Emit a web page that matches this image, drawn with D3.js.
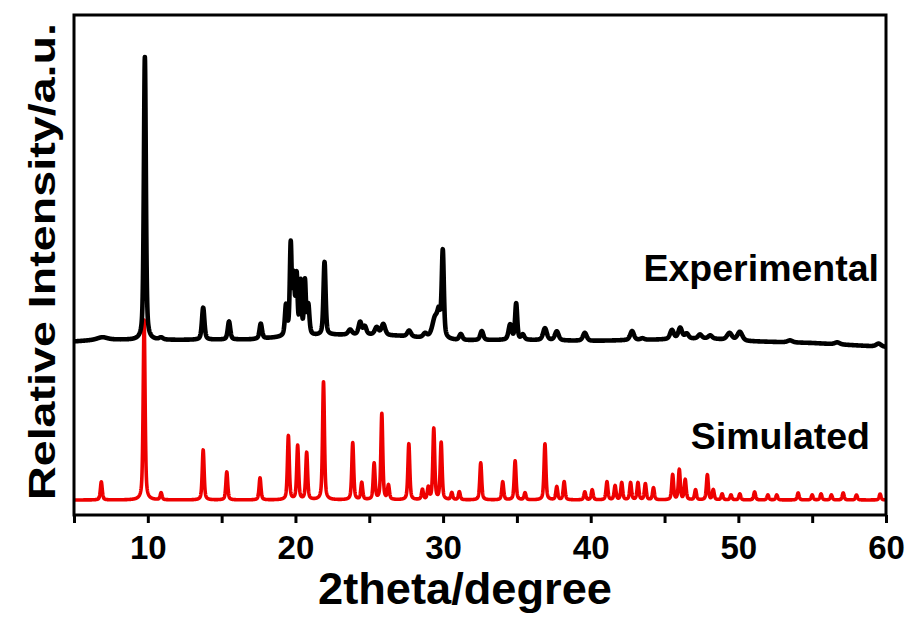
<!DOCTYPE html>
<html><head><meta charset="utf-8">
<script src="https://cdn.jsdelivr.net/npm/d3@7"></script>
<style>body{margin:0;background:#fff}</style>
</head><body>
<svg id="chart" width="912" height="618"></svg>
<script>
// ---------------- data ----------------
const xDomain = [5, 60];
const xMajorTicks = [10, 20, 30, 40, 50, 60];
const xMinorTicks = [5, 15, 25, 35, 45, 55];
const xTitle = "2theta/degree";
const yTitle = "Relative Intensity/a.u.";
const seriesNames = ["Experimental", "Simulated"];

// Simulated pattern: constant baseline + peak list (2theta, intensity, FWHM)
const simBaseline = 3.0;
const simPos    = [6.85, 9.75, 10.9, 13.75, 15.35, 17.6, 19.52, 20.15, 20.76, 21.9, 23.88, 24.49, 25.33, 25.85, 26.3, 27.68, 28.6, 29.0, 29.37, 29.87, 30.59, 31.1, 32.55, 34.04, 34.88, 35.55, 36.9, 37.7, 38.2, 39.6, 40.1, 41.1, 41.65, 42.1, 42.7, 43.2, 43.7, 44.25, 45.55, 46.0, 46.4, 47.1, 47.9, 48.3, 48.9, 49.5, 50.1, 51.1, 52.0, 52.6, 54.05, 55.0, 55.6, 56.3, 57.1, 58.0, 59.6];
const simHeight = [3.6, 36, 1.4, 10, 5.6, 4.4, 12.8, 10.8, 9.4, 23.6, 11.4, 3.4, 7.2, 17.2, 2.8, 11.2, 2.0, 2.4, 14.2, 11.4, 1.4, 1.6, 7.4, 3.6, 7.8, 1.4, 11.2, 2.6, 3.6, 1.6, 2.0, 3.6, 2.8, 3.4, 3.4, 3.4, 3.2, 2.4, 5.0, 6.0, 4.0, 2.0, 5.0, 2.0, 1.2, 1.0, 1.2, 1.6, 1.0, 1.0, 1.4, 1.0, 1.2, 1.0, 1.4, 1.0, 1.2];
const simFWHM = 0.15;

// Experimental pattern: drifting baseline + peak list
const expBaseX = [5, 7, 9, 12, 17, 19, 22.5, 25, 27, 28.5, 31, 35, 40, 45, 48, 50, 55, 60];
const expBaseY = [34.7, 35.1, 35.0, 35.0, 35.1, 35.5, 36.0, 36.0, 35.8, 35.4, 34.9, 35.0, 34.8, 35.1, 35.3, 34.8, 34.4, 33.6];
const expPos    = [6.9, 9.8, 10.9, 13.75, 15.5, 17.65, 19.36, 19.68, 19.88, 20.08, 20.35, 20.64, 20.87, 21.97, 23.7, 24.38, 24.7, 25.5, 25.95, 27.7, 28.78, 29.46, 29.72, 29.98, 31.2, 32.62, 34.54, 34.95, 35.4, 36.9, 37.7, 39.6, 42.8, 43.5, 45.5, 46.06, 46.5, 47.4, 48.1, 49.4, 50.1, 53.5, 56.7, 59.5];
const expHeight = [0.45, 56.6, 0.4, 6.4, 3.6, 3.0, 6.0, 18.0, 11.0, 11.5, 10.4, 10.6, 5.8, 14.6, 1.0, 2.5, 1.6, 1.5, 2.2, 1.2, 0.8, 4.0, 4.0, 17.2, 1.2, 1.8, 3.0, 7.2, 1.0, 2.4, 1.8, 1.6, 1.8, 0.3, 1.8, 2.2, 1.0, 0.8, 0.6, 1.4, 1.8, 0.4, 0.4, 0.6];
const expFWHM   = [0.8, 0.16, 0.3, 0.2, 0.2, 0.2, 0.18, 0.15, 0.15, 0.15, 0.15, 0.15, 0.18, 0.17, 0.3, 0.25, 0.25, 0.3, 0.3, 0.3, 0.3, 0.45, 0.25, 0.17, 0.25, 0.25, 0.25, 0.17, 0.25, 0.3, 0.3, 0.3, 0.3, 0.3, 0.3, 0.3, 0.3, 0.3, 0.3, 0.4, 0.4, 0.4, 0.4, 0.4];

// ---------------- drawing ----------------
const frame = {left: 74, right: 886, top: 15, bottom: 515};
const svg = d3.select("#chart");
const font = "'Liberation Sans', Arial, Helvetica, sans-serif";

const x = d3.scaleLinear().domain(xDomain).range([frame.left, frame.right]);
const y = d3.scaleLinear().domain([0, 100]).range([frame.bottom, frame.top]);

function pv(dx, w, eta) {
  const t = dx / w;
  return eta / (1 + 4 * t * t) + (1 - eta) * Math.exp(-4 * Math.LN2 * t * t);
}
const grid = d3.range(xDomain[0], xDomain[1] + 1e-9, 0.01);
const baseInterp = d3.scaleLinear().domain(expBaseX).range(expBaseY);

const simData = grid.map(t => {
  let v = simBaseline;
  for (let i = 0; i < simPos.length; i++) v += simHeight[i] * pv(t - simPos[i], simFWHM, 0.5);
  return [t, v];
});
const expData = grid.map(t => {
  let v = baseInterp(t);
  for (let i = 0; i < expPos.length; i++) v += expHeight[i] * pv(t - expPos[i], expFWHM[i], 0.5);
  return [t, v];
});

svg.append("defs").append("clipPath").attr("id", "clip")
  .append("rect").attr("x", frame.left).attr("y", frame.top)
  .attr("width", frame.right - frame.left).attr("height", frame.bottom - frame.top);

const line = d3.line().x(d => x(d[0])).y(d => y(d[1]));
const g = svg.append("g").attr("clip-path", "url(#clip)");
g.append("path").datum(simData).attr("d", line)
  .attr("fill", "none").attr("stroke", "#ee0000").attr("stroke-width", 3.6).attr("stroke-linejoin", "round");
g.append("path").datum(expData).attr("d", line)
  .attr("fill", "none").attr("stroke", "#000").attr("stroke-width", 4.6).attr("stroke-linejoin", "round");

// frame
svg.append("rect").attr("x", frame.left).attr("y", frame.top)
  .attr("width", frame.right - frame.left).attr("height", frame.bottom - frame.top)
  .attr("fill", "none").attr("stroke", "#000").attr("stroke-width", 3);

// bottom axis
const axis = d3.axisBottom(x).tickValues(xMajorTicks).tickSize(8).tickPadding(13).tickFormat(d3.format("d"));
const ax = svg.append("g").attr("transform", `translate(0,${frame.bottom})`).call(axis);
ax.select(".domain").remove();
ax.selectAll(".tick line").attr("stroke", "#000").attr("stroke-width", 3);
ax.selectAll(".tick text").attr("font-family", font).attr("font-weight", "bold")
  .attr("font-size", 33).attr("fill", "#000");
const axMinor = d3.axisBottom(x).tickValues(xMinorTicks).tickSize(8).tickFormat("");
const axm = svg.append("g").attr("transform", `translate(0,${frame.bottom})`).call(axMinor);
axm.select(".domain").remove();
axm.selectAll(".tick line").attr("stroke", "#000").attr("stroke-width", 3);

// titles
svg.append("text").attr("x", 465).attr("y", 604)
  .attr("text-anchor", "middle").attr("font-family", font).attr("font-weight", "bold")
  .attr("font-size", 44).attr("textLength", 294).attr("lengthAdjust", "spacingAndGlyphs").text(xTitle);
svg.append("text").attr("transform", `translate(55,${(23 + 500) / 2}) rotate(-90)`)
  .attr("text-anchor", "middle").attr("font-family", font).attr("font-weight", "bold")
  .attr("font-size", 37).attr("textLength", 477).attr("lengthAdjust", "spacingAndGlyphs").text(yTitle);

// series labels
svg.append("text").attr("x", 879).attr("y", 281).attr("text-anchor", "end")
  .attr("font-family", font).attr("font-weight", "bold").attr("font-size", 37.5).text(seriesNames[0]);
svg.append("text").attr("x", 870).attr("y", 449).attr("text-anchor", "end")
  .attr("font-family", font).attr("font-weight", "bold").attr("font-size", 37.5).text(seriesNames[1]);
</script>
</body></html>
